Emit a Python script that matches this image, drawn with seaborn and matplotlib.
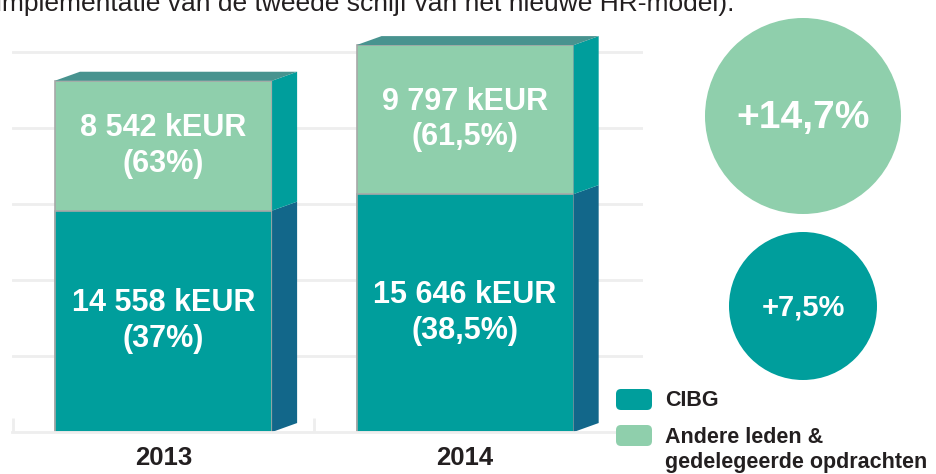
import pandas as pd
import seaborn as sns
import matplotlib.pyplot as plt
from matplotlib.patches import Polygon, Circle, FancyBboxPatch

# Data
years = ["2013", "2014"]
cibg = [14558, 15646]
andere = [8542, 9797]
cibg_pct = ["(37%)", "(38,5%)"]
andere_pct = ["(63%)", "(61,5%)"]
growth_labels = ["+14,7%", "+7,5%"]
legend_labels = ["CIBG", "Andere leden &\ngedelegeerde opdrachten"]
header = "implementatie van de tweede schijf van het nieuwe HR-model)."

# Colours
green = "#8FCFAC"
teal = "#009E9C"
dark_side = "#12678A"
top_face = "#48938F"
edge = "#A8A8A8"
text_dark = "#231F20"
grid_col = "#EEEEEE"

sns.set_theme(style="white")
plt.rcParams['font.family'] = ['Liberation Sans', 'DejaVu Sans']

W, H = 936, 474
fig = plt.figure(figsize=(W / 100, H / 100), dpi=100)


def frac(x0, y0, x1, y1):
    # pixel box (top-left origin) -> figure rect
    return [x0 / W, 1 - y1 / H, (x1 - x0) / W, (y1 - y0) / H]


# Bar chart
df = pd.DataFrame({"year": years, "cibg": cibg, "andere": andere})
df["total"] = df["cibg"] + df["andere"]

ax = fig.add_axes(frac(12, 29, 643, 432))
sns.barplot(data=df, x="year", y="total", color=green, width=0.72, saturation=1,
            edgecolor=edge, linewidth=1.2, ax=ax)
sns.barplot(data=df, x="year", y="cibg", color=teal, width=0.72, saturation=1,
            edgecolor=edge, linewidth=1.2, ax=ax)
ax.set_xlim(-0.5025, 1.59)
ax.set_ylim(0, 26500)

# fake 3D depth: side and top faces
dx, dy = 0.083, 590
fmt = lambda v: f"{v:,}".replace(",", " ")
for i, p in enumerate(ax.patches[:2]):
    x0 = p.get_x()
    x1 = x0 + p.get_width()
    low = df["cibg"][i]
    tot = df["total"][i]
    ax.add_patch(Polygon([(x1, 0), (x1 + dx, dy), (x1 + dx, low + dy), (x1, low)],
                         facecolor=dark_side, edgecolor="none", zorder=1))
    ax.add_patch(Polygon([(x1, low), (x1 + dx, low + dy), (x1 + dx, tot + dy), (x1, tot)],
                         facecolor=teal, edgecolor="none", zorder=1))
    ax.add_patch(Polygon([(x0, tot), (x0 + dx, tot + dy), (x1 + dx, tot + dy), (x1, tot)],
                         facecolor=top_face, edgecolor="none", zorder=1))

    ax.text(x0 + p.get_width() / 2, low / 2, f"{fmt(df['cibg'][i])} kEUR\n{cibg_pct[i]}",
            ha="center", va="center", color="white", fontsize=22, fontweight="bold",
            linespacing=1.25, zorder=4)
    ax.text(x0 + p.get_width() / 2, low + df["andere"][i] / 2,
            f"{fmt(df['andere'][i])} kEUR\n{andere_pct[i]}",
            ha="center", va="center", color="white", fontsize=22, fontweight="bold",
            linespacing=1.25, zorder=4)

ax.set_yticks(range(5000, 25001, 5000))
ax.yaxis.grid(True, color=grid_col, linewidth=2)
ax.set_axisbelow(True)
ax.tick_params(axis="y", length=0, labelleft=False)
ax.set_xlabel("")
ax.set_ylabel("")
ax.tick_params(axis="x", which="major", length=0, pad=10, labelsize=18.5, labelcolor=text_dark)
for t in ax.get_xticklabels():
    t.set_fontweight("bold")
ax.set_xticks([-0.5, 0.5], minor=True)
ax.tick_params(axis="x", which="minor", bottom=True, direction="in", length=10,
               width=2, color=grid_col)
for s in ["left", "right", "top"]:
    ax.spines[s].set_visible(False)
ax.spines["bottom"].set_color(grid_col)
ax.spines["bottom"].set_linewidth(2)

# Overlay in pixel units: header, growth circles, legend
ov = fig.add_axes([0, 0, 1, 1])
ov.set_xlim(0, W)
ov.set_ylim(H, 0)
ov.axis("off")

ov.text(-4, 11, header, fontsize=19, color=text_dark, va="baseline")

ov.add_patch(Circle((803, 116), 98, facecolor=green, edgecolor="none"))
ov.text(803, 118, growth_labels[0], ha="center", va="center", color="white",
        fontsize=28, fontweight="bold")
ov.add_patch(Circle((803, 306), 74, facecolor=teal, edgecolor="none"))
ov.text(803, 308, growth_labels[1], ha="center", va="center", color="white",
        fontsize=21, fontweight="bold")

for (y, col, lab, ty) in [(389, teal, legend_labels[0], 400), (425, green, legend_labels[1], 450)]:
    ov.add_patch(FancyBboxPatch((616, y), 36, 21, boxstyle="round,pad=0,rounding_size=5",
                                facecolor=col, edgecolor="none"))
    ov.text(665, ty, lab, va="center", ha="left", fontsize=15.5, fontweight="bold",
            color=text_dark, linespacing=1.2)

fig.savefig("out.png", dpi=100)
